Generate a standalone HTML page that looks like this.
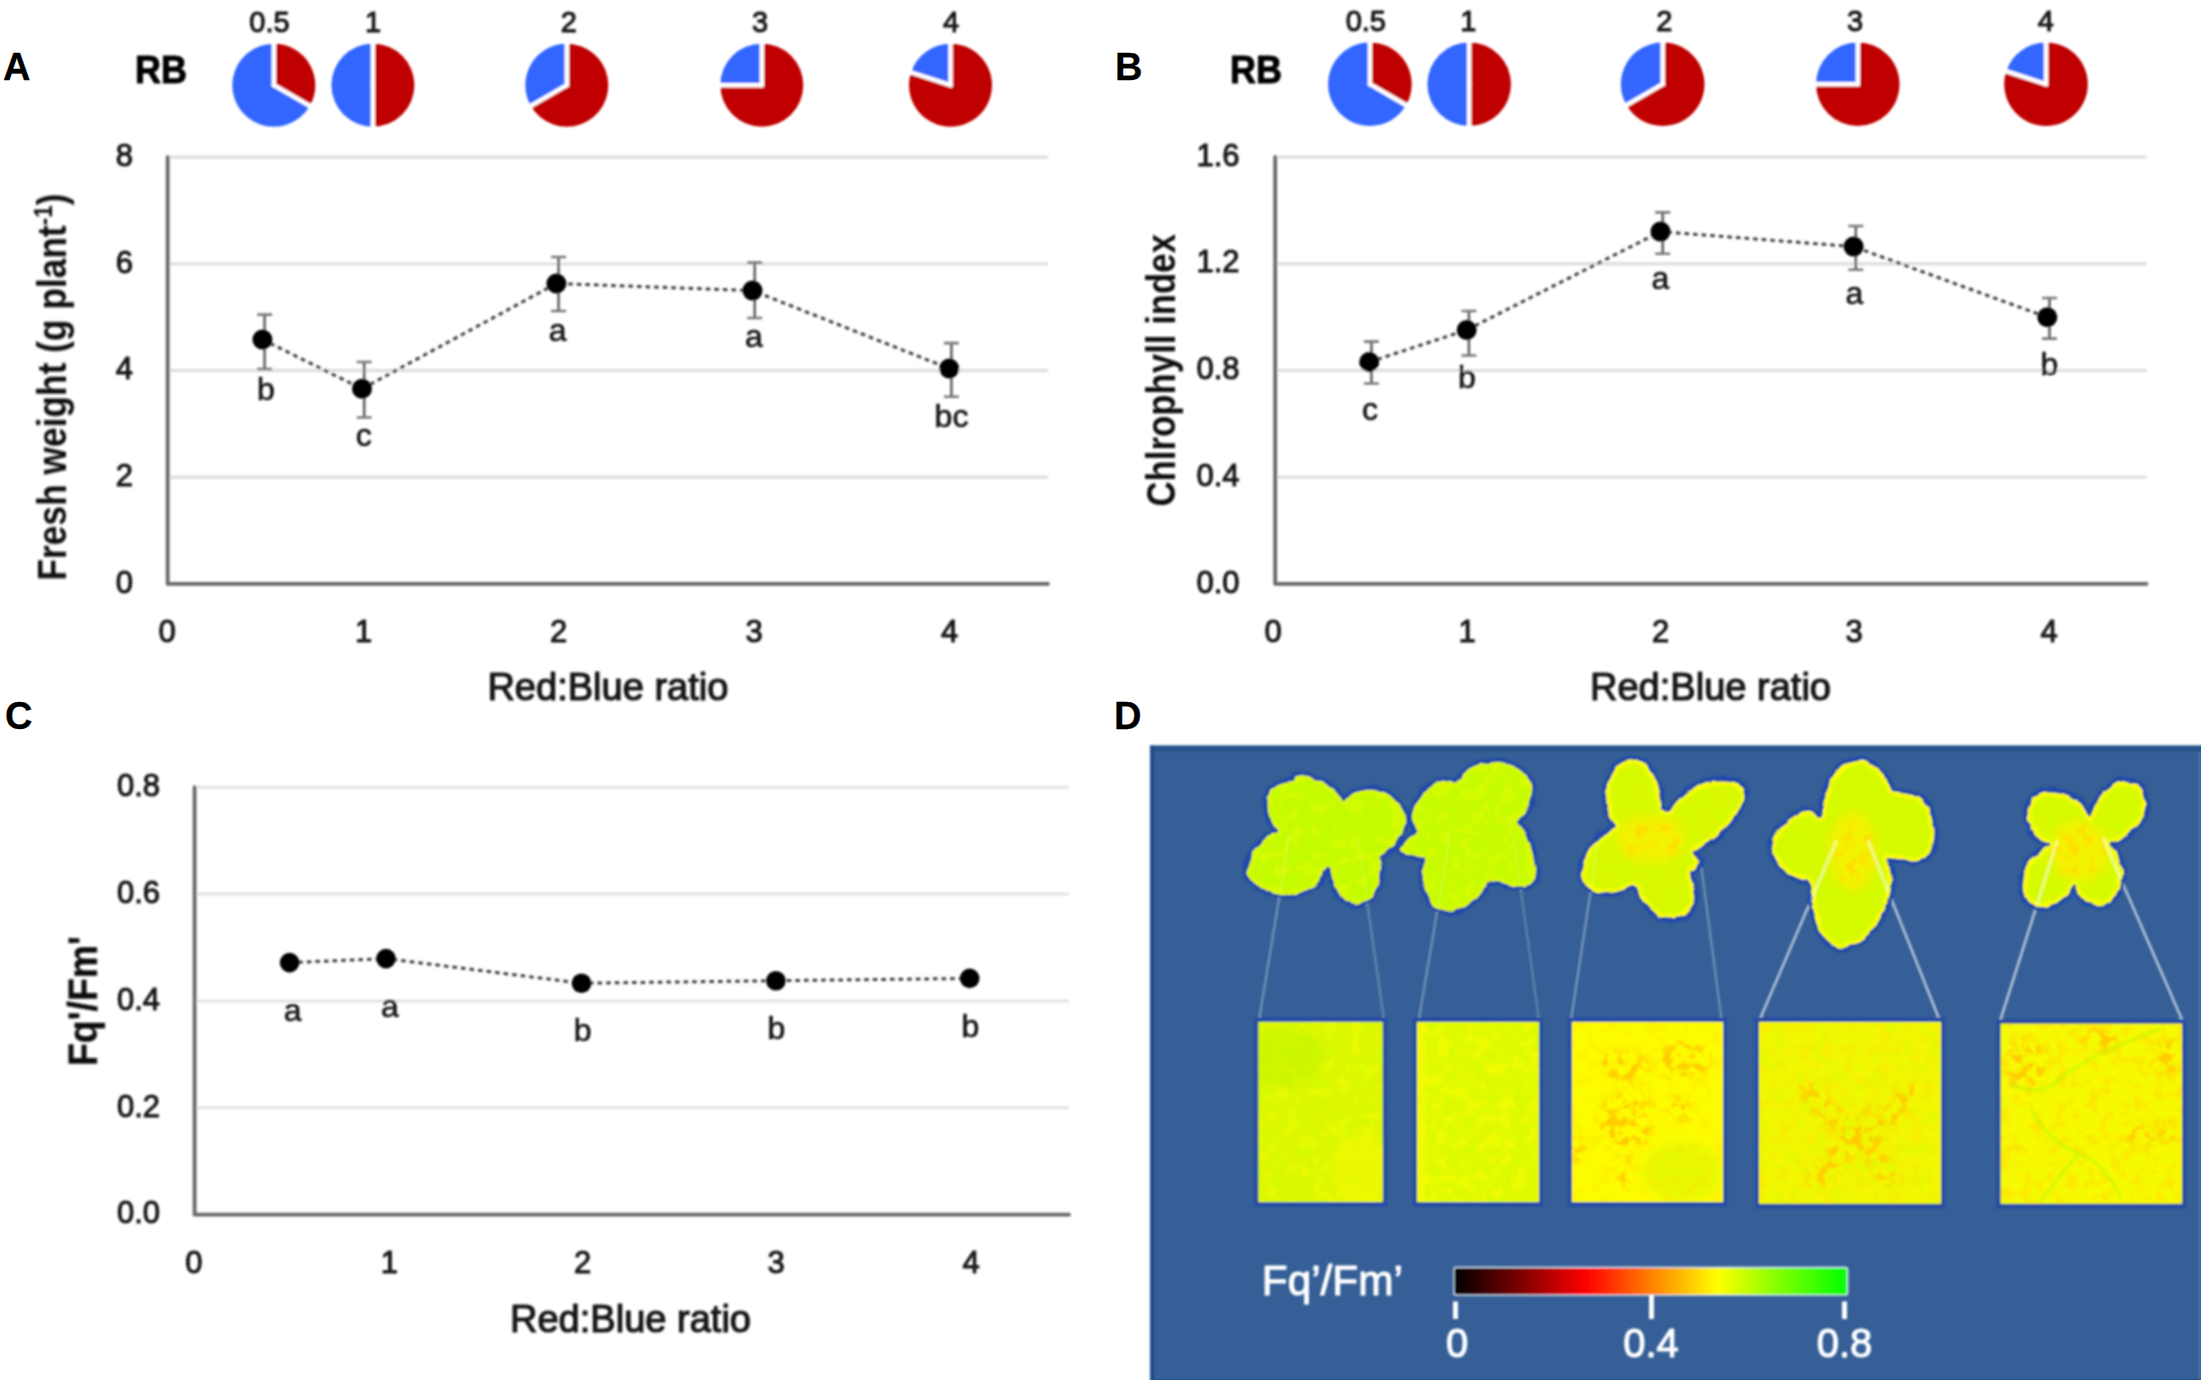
<!DOCTYPE html>
<html><head><meta charset="utf-8"><title>Figure</title>
<style>
html,body{margin:0;padding:0;background:#fff;}
svg{display:block;font-family:"Liberation Sans", sans-serif;}
text{stroke-linejoin:round;}
</style></head><body>
<svg width="2204" height="1383" viewBox="0 0 2204 1383">
<rect width="2204" height="1383" fill="#fff"/>
<text x="3.0" y="80.0" font-size="38" text-anchor="start" font-weight="bold" fill="#000" stroke="#000" stroke-width="0.3" >A</text>
<text x="1115.0" y="80.0" font-size="38" text-anchor="start" font-weight="bold" fill="#000" stroke="#000" stroke-width="0.3" >B</text>
<text x="5.0" y="729.0" font-size="38" text-anchor="start" font-weight="bold" fill="#000" stroke="#000" stroke-width="0.3" >C</text>
<text x="1114.0" y="729.0" font-size="38" text-anchor="start" font-weight="bold" fill="#000" stroke="#000" stroke-width="0.3" >D</text>
<defs><filter id="soft" x="0" y="0" width="100%" height="100%" filterUnits="userSpaceOnUse"><feGaussianBlur stdDeviation="0.8"/></filter></defs>
<g filter="url(#soft)">
<text x="135.0" y="82.8" font-size="38" text-anchor="start" font-weight="bold" fill="#000" stroke="#000" stroke-width="1.0" textLength="52.0" lengthAdjust="spacingAndGlyphs" >RB</text>
<text x="1230.0" y="82.5" font-size="38" text-anchor="start" font-weight="bold" fill="#000" stroke="#000" stroke-width="1.0" textLength="52.0" lengthAdjust="spacingAndGlyphs" >RB</text>
<path d="M273.80,85.20 L273.80,43.70 A41.5,41.5 0 0 1 309.74,105.95 Z" fill="#c00000"/>
<path d="M273.80,85.20 L309.74,105.95 A41.5,41.5 0 1 1 273.80,43.70 Z" fill="#3366ff"/>
<line x1="273.80" y1="85.20" x2="273.80" y2="41.70" stroke="#fff" stroke-width="4.4" stroke-linecap="round"/>
<line x1="273.80" y1="85.20" x2="311.47" y2="106.95" stroke="#fff" stroke-width="4.4" stroke-linecap="round"/>
<path d="M372.90,85.20 L372.90,43.70 A41.5,41.5 0 0 1 372.90,126.70 Z" fill="#c00000"/>
<path d="M372.90,85.20 L372.90,126.70 A41.5,41.5 0 0 1 372.90,43.70 Z" fill="#3366ff"/>
<line x1="372.90" y1="85.20" x2="372.90" y2="41.70" stroke="#fff" stroke-width="4.4" stroke-linecap="round"/>
<line x1="372.90" y1="85.20" x2="372.90" y2="128.70" stroke="#fff" stroke-width="4.4" stroke-linecap="round"/>
<path d="M566.80,85.20 L566.80,43.70 A41.5,41.5 0 1 1 530.86,105.95 Z" fill="#c00000"/>
<path d="M566.80,85.20 L530.86,105.95 A41.5,41.5 0 0 1 566.80,43.70 Z" fill="#3366ff"/>
<line x1="566.80" y1="85.20" x2="566.80" y2="41.70" stroke="#fff" stroke-width="4.4" stroke-linecap="round"/>
<line x1="566.80" y1="85.20" x2="529.13" y2="106.95" stroke="#fff" stroke-width="4.4" stroke-linecap="round"/>
<path d="M761.80,85.20 L761.80,43.70 A41.5,41.5 0 1 1 720.30,85.20 Z" fill="#c00000"/>
<path d="M761.80,85.20 L720.30,85.20 A41.5,41.5 0 0 1 761.80,43.70 Z" fill="#3366ff"/>
<line x1="761.80" y1="85.20" x2="761.80" y2="41.70" stroke="#fff" stroke-width="4.4" stroke-linecap="round"/>
<line x1="761.80" y1="85.20" x2="718.30" y2="85.20" stroke="#fff" stroke-width="4.4" stroke-linecap="round"/>
<path d="M950.50,85.20 L950.50,43.70 A41.5,41.5 0 1 1 911.03,72.38 Z" fill="#c00000"/>
<path d="M950.50,85.20 L911.03,72.38 A41.5,41.5 0 0 1 950.50,43.70 Z" fill="#3366ff"/>
<line x1="950.50" y1="85.20" x2="950.50" y2="41.70" stroke="#fff" stroke-width="4.4" stroke-linecap="round"/>
<line x1="950.50" y1="85.20" x2="909.13" y2="71.76" stroke="#fff" stroke-width="4.4" stroke-linecap="round"/>
<text x="269.5" y="31.5" font-size="29" text-anchor="middle" font-weight="normal" fill="#141414" stroke="#141414" stroke-width="1.0" >0.5</text>
<text x="373.0" y="31.5" font-size="29" text-anchor="middle" font-weight="normal" fill="#141414" stroke="#141414" stroke-width="1.0" >1</text>
<text x="568.7" y="31.5" font-size="29" text-anchor="middle" font-weight="normal" fill="#141414" stroke="#141414" stroke-width="1.0" >2</text>
<text x="760.0" y="31.5" font-size="29" text-anchor="middle" font-weight="normal" fill="#141414" stroke="#141414" stroke-width="1.0" >3</text>
<text x="951.0" y="31.5" font-size="29" text-anchor="middle" font-weight="normal" fill="#141414" stroke="#141414" stroke-width="1.0" >4</text>
<path d="M1369.90,84.20 L1369.90,42.40 A41.8,41.8 0 0 1 1406.10,105.10 Z" fill="#c00000"/>
<path d="M1369.90,84.20 L1406.10,105.10 A41.8,41.8 0 1 1 1369.90,42.40 Z" fill="#3366ff"/>
<line x1="1369.90" y1="84.20" x2="1369.90" y2="40.40" stroke="#fff" stroke-width="4.4" stroke-linecap="round"/>
<line x1="1369.90" y1="84.20" x2="1407.83" y2="106.10" stroke="#fff" stroke-width="4.4" stroke-linecap="round"/>
<path d="M1469.20,84.20 L1469.20,42.40 A41.8,41.8 0 0 1 1469.20,126.00 Z" fill="#c00000"/>
<path d="M1469.20,84.20 L1469.20,126.00 A41.8,41.8 0 0 1 1469.20,42.40 Z" fill="#3366ff"/>
<line x1="1469.20" y1="84.20" x2="1469.20" y2="40.40" stroke="#fff" stroke-width="4.4" stroke-linecap="round"/>
<line x1="1469.20" y1="84.20" x2="1469.20" y2="128.00" stroke="#fff" stroke-width="4.4" stroke-linecap="round"/>
<path d="M1662.70,84.20 L1662.70,42.40 A41.8,41.8 0 1 1 1626.50,105.10 Z" fill="#c00000"/>
<path d="M1662.70,84.20 L1626.50,105.10 A41.8,41.8 0 0 1 1662.70,42.40 Z" fill="#3366ff"/>
<line x1="1662.70" y1="84.20" x2="1662.70" y2="40.40" stroke="#fff" stroke-width="4.4" stroke-linecap="round"/>
<line x1="1662.70" y1="84.20" x2="1624.77" y2="106.10" stroke="#fff" stroke-width="4.4" stroke-linecap="round"/>
<path d="M1857.80,84.20 L1857.80,42.40 A41.8,41.8 0 1 1 1816.00,84.20 Z" fill="#c00000"/>
<path d="M1857.80,84.20 L1816.00,84.20 A41.8,41.8 0 0 1 1857.80,42.40 Z" fill="#3366ff"/>
<line x1="1857.80" y1="84.20" x2="1857.80" y2="40.40" stroke="#fff" stroke-width="4.4" stroke-linecap="round"/>
<line x1="1857.80" y1="84.20" x2="1814.00" y2="84.20" stroke="#fff" stroke-width="4.4" stroke-linecap="round"/>
<path d="M2046.00,84.20 L2046.00,42.40 A41.8,41.8 0 1 1 2006.25,71.28 Z" fill="#c00000"/>
<path d="M2046.00,84.20 L2006.25,71.28 A41.8,41.8 0 0 1 2046.00,42.40 Z" fill="#3366ff"/>
<line x1="2046.00" y1="84.20" x2="2046.00" y2="40.40" stroke="#fff" stroke-width="4.4" stroke-linecap="round"/>
<line x1="2046.00" y1="84.20" x2="2004.34" y2="70.67" stroke="#fff" stroke-width="4.4" stroke-linecap="round"/>
<text x="1365.8" y="30.5" font-size="29" text-anchor="middle" font-weight="normal" fill="#141414" stroke="#141414" stroke-width="1.0" >0.5</text>
<text x="1468.4" y="30.5" font-size="29" text-anchor="middle" font-weight="normal" fill="#141414" stroke="#141414" stroke-width="1.0" >1</text>
<text x="1664.4" y="30.5" font-size="29" text-anchor="middle" font-weight="normal" fill="#141414" stroke="#141414" stroke-width="1.0" >2</text>
<text x="1855.0" y="30.5" font-size="29" text-anchor="middle" font-weight="normal" fill="#141414" stroke="#141414" stroke-width="1.0" >3</text>
<text x="2045.8" y="30.5" font-size="29" text-anchor="middle" font-weight="normal" fill="#141414" stroke="#141414" stroke-width="1.0" >4</text>
<line x1="169.7" y1="157.2" x2="1048" y2="157.2" stroke="#e0e0e0" stroke-width="3.4"/>
<line x1="169.7" y1="263.9" x2="1048" y2="263.9" stroke="#e0e0e0" stroke-width="3.4"/>
<line x1="169.7" y1="370.5" x2="1048" y2="370.5" stroke="#e0e0e0" stroke-width="3.4"/>
<line x1="169.7" y1="477.2" x2="1048" y2="477.2" stroke="#e0e0e0" stroke-width="3.4"/>
<path d="M167.7,157.2 V583.8 H1048.0" fill="none" stroke="#686868" stroke-width="3.8" stroke-linejoin="round" stroke-linecap="round"/>
<text x="133.0" y="165.9" font-size="31" text-anchor="end" font-weight="normal" fill="#141414" stroke="#141414" stroke-width="1.0" >8</text>
<text x="133.0" y="272.6" font-size="31" text-anchor="end" font-weight="normal" fill="#141414" stroke="#141414" stroke-width="1.0" >6</text>
<text x="133.0" y="379.2" font-size="31" text-anchor="end" font-weight="normal" fill="#141414" stroke="#141414" stroke-width="1.0" >4</text>
<text x="133.0" y="485.9" font-size="31" text-anchor="end" font-weight="normal" fill="#141414" stroke="#141414" stroke-width="1.0" >2</text>
<text x="133.0" y="592.5" font-size="31" text-anchor="end" font-weight="normal" fill="#141414" stroke="#141414" stroke-width="1.0" >0</text>
<text x="167.0" y="642.0" font-size="31" text-anchor="middle" font-weight="normal" fill="#141414" stroke="#141414" stroke-width="1.0" >0</text>
<text x="363.5" y="642.0" font-size="31" text-anchor="middle" font-weight="normal" fill="#141414" stroke="#141414" stroke-width="1.0" >1</text>
<text x="558.5" y="642.0" font-size="31" text-anchor="middle" font-weight="normal" fill="#141414" stroke="#141414" stroke-width="1.0" >2</text>
<text x="754.0" y="642.0" font-size="31" text-anchor="middle" font-weight="normal" fill="#141414" stroke="#141414" stroke-width="1.0" >3</text>
<text x="949.5" y="642.0" font-size="31" text-anchor="middle" font-weight="normal" fill="#141414" stroke="#141414" stroke-width="1.0" >4</text>
<path d="M262.4,339.5 L362.0,388.8 L556.4,283.5 L752.5,290.6 L949.2,368.5" fill="none" stroke="#404040" stroke-width="3" stroke-dasharray="4.6 4"/>
<path d="M264.6,314.6 V369.0" fill="none" stroke="#5a5a5a" stroke-width="2.5"/><path d="M257.1,314.6 H272.1 M257.1,369.0 H272.1" fill="none" stroke="#787878" stroke-width="2.6"/>
<path d="M364.2,362.0 V417.5" fill="none" stroke="#5a5a5a" stroke-width="2.5"/><path d="M356.7,362.0 H371.7 M356.7,417.5 H371.7" fill="none" stroke="#787878" stroke-width="2.6"/>
<path d="M558.6,257.0 V311.0" fill="none" stroke="#5a5a5a" stroke-width="2.5"/><path d="M551.1,257.0 H566.1 M551.1,311.0 H566.1" fill="none" stroke="#787878" stroke-width="2.6"/>
<path d="M754.7,262.6 V318.0" fill="none" stroke="#5a5a5a" stroke-width="2.5"/><path d="M747.2,262.6 H762.2 M747.2,318.0 H762.2" fill="none" stroke="#787878" stroke-width="2.6"/>
<path d="M951.4,343.1 V396.8" fill="none" stroke="#5a5a5a" stroke-width="2.5"/><path d="M943.9,343.1 H958.9 M943.9,396.8 H958.9" fill="none" stroke="#787878" stroke-width="2.6"/>
<circle cx="262.4" cy="339.5" r="10" fill="#000"/>
<circle cx="362.0" cy="388.8" r="10" fill="#000"/>
<circle cx="556.4" cy="283.5" r="10" fill="#000"/>
<circle cx="752.5" cy="290.6" r="10" fill="#000"/>
<circle cx="949.2" cy="368.5" r="10" fill="#000"/>
<text x="265.8" y="399.6" font-size="32" text-anchor="middle" font-weight="normal" fill="#141414" stroke="#141414" stroke-width="0.6" >b</text>
<text x="363.8" y="446.4" font-size="32" text-anchor="middle" font-weight="normal" fill="#141414" stroke="#141414" stroke-width="0.6" >c</text>
<text x="557.7" y="340.7" font-size="32" text-anchor="middle" font-weight="normal" fill="#141414" stroke="#141414" stroke-width="0.6" >a</text>
<text x="753.8" y="347.4" font-size="32" text-anchor="middle" font-weight="normal" fill="#141414" stroke="#141414" stroke-width="0.6" >a</text>
<text x="951.5" y="426.5" font-size="32" text-anchor="middle" font-weight="normal" fill="#141414" stroke="#141414" stroke-width="0.6" >bc</text>
<text x="487.4" y="700.0" font-size="38" text-anchor="start" font-weight="normal" fill="#141414" stroke="#141414" stroke-width="1.2" textLength="241.0" lengthAdjust="spacingAndGlyphs" >Red:Blue ratio</text>
<text transform="translate(66,580.6) rotate(-90)" font-size="41" font-weight="bold" fill="#111" textLength="387" lengthAdjust="spacingAndGlyphs">Fresh weight (g plant<tspan font-size="26" dy="-14">-1</tspan><tspan dy="14">)</tspan></text>
<line x1="1277.2" y1="157.0" x2="2146.6" y2="157.0" stroke="#e0e0e0" stroke-width="3.4"/>
<line x1="1277.2" y1="263.7" x2="2146.6" y2="263.7" stroke="#e0e0e0" stroke-width="3.4"/>
<line x1="1277.2" y1="370.4" x2="2146.6" y2="370.4" stroke="#e0e0e0" stroke-width="3.4"/>
<line x1="1277.2" y1="477.1" x2="2146.6" y2="477.1" stroke="#e0e0e0" stroke-width="3.4"/>
<path d="M1275.2,157.0 V583.8 H2146.6" fill="none" stroke="#686868" stroke-width="3.8" stroke-linejoin="round" stroke-linecap="round"/>
<text x="1239.5" y="165.7" font-size="31" text-anchor="end" font-weight="normal" fill="#141414" stroke="#141414" stroke-width="1.0" >1.6</text>
<text x="1239.5" y="272.4" font-size="31" text-anchor="end" font-weight="normal" fill="#141414" stroke="#141414" stroke-width="1.0" >1.2</text>
<text x="1239.5" y="379.1" font-size="31" text-anchor="end" font-weight="normal" fill="#141414" stroke="#141414" stroke-width="1.0" >0.8</text>
<text x="1239.5" y="485.8" font-size="31" text-anchor="end" font-weight="normal" fill="#141414" stroke="#141414" stroke-width="1.0" >0.4</text>
<text x="1239.5" y="592.5" font-size="31" text-anchor="end" font-weight="normal" fill="#141414" stroke="#141414" stroke-width="1.0" >0.0</text>
<text x="1273.0" y="642.0" font-size="31" text-anchor="middle" font-weight="normal" fill="#141414" stroke="#141414" stroke-width="1.0" >0</text>
<text x="1467.0" y="642.0" font-size="31" text-anchor="middle" font-weight="normal" fill="#141414" stroke="#141414" stroke-width="1.0" >1</text>
<text x="1660.5" y="642.0" font-size="31" text-anchor="middle" font-weight="normal" fill="#141414" stroke="#141414" stroke-width="1.0" >2</text>
<text x="1854.0" y="642.0" font-size="31" text-anchor="middle" font-weight="normal" fill="#141414" stroke="#141414" stroke-width="1.0" >3</text>
<text x="2049.0" y="642.0" font-size="31" text-anchor="middle" font-weight="normal" fill="#141414" stroke="#141414" stroke-width="1.0" >4</text>
<path d="M1369.2,362.0 L1466.7,330.0 L1660.5,231.6 L1853.6,246.6 L2047.3,317.3" fill="none" stroke="#404040" stroke-width="3" stroke-dasharray="4.6 4"/>
<path d="M1371.4,341.6 V383.5" fill="none" stroke="#5a5a5a" stroke-width="2.5"/><path d="M1363.9,341.6 H1378.9 M1363.9,383.5 H1378.9" fill="none" stroke="#787878" stroke-width="2.6"/>
<path d="M1468.9,311.0 V355.5" fill="none" stroke="#5a5a5a" stroke-width="2.5"/><path d="M1461.4,311.0 H1476.4 M1461.4,355.5 H1476.4" fill="none" stroke="#787878" stroke-width="2.6"/>
<path d="M1662.7,212.4 V253.7" fill="none" stroke="#5a5a5a" stroke-width="2.5"/><path d="M1655.2,212.4 H1670.2 M1655.2,253.7 H1670.2" fill="none" stroke="#787878" stroke-width="2.6"/>
<path d="M1855.8,226.0 V269.7" fill="none" stroke="#5a5a5a" stroke-width="2.5"/><path d="M1848.3,226.0 H1863.3 M1848.3,269.7 H1863.3" fill="none" stroke="#787878" stroke-width="2.6"/>
<path d="M2049.5,298.0 V338.6" fill="none" stroke="#5a5a5a" stroke-width="2.5"/><path d="M2042.0,298.0 H2057.0 M2042.0,338.6 H2057.0" fill="none" stroke="#787878" stroke-width="2.6"/>
<circle cx="1369.2" cy="362.0" r="10" fill="#000"/>
<circle cx="1466.7" cy="330.0" r="10" fill="#000"/>
<circle cx="1660.5" cy="231.6" r="10" fill="#000"/>
<circle cx="1853.6" cy="246.6" r="10" fill="#000"/>
<circle cx="2047.3" cy="317.3" r="10" fill="#000"/>
<text x="1370.0" y="420.0" font-size="32" text-anchor="middle" font-weight="normal" fill="#141414" stroke="#141414" stroke-width="0.6" >c</text>
<text x="1467.0" y="388.1" font-size="32" text-anchor="middle" font-weight="normal" fill="#141414" stroke="#141414" stroke-width="0.6" >b</text>
<text x="1660.5" y="289.3" font-size="32" text-anchor="middle" font-weight="normal" fill="#141414" stroke="#141414" stroke-width="0.6" >a</text>
<text x="1854.5" y="303.7" font-size="32" text-anchor="middle" font-weight="normal" fill="#141414" stroke="#141414" stroke-width="0.6" >a</text>
<text x="2049.4" y="375.2" font-size="32" text-anchor="middle" font-weight="normal" fill="#141414" stroke="#141414" stroke-width="0.6" >b</text>
<text x="1590.0" y="700.0" font-size="38" text-anchor="start" font-weight="normal" fill="#141414" stroke="#141414" stroke-width="1.2" textLength="241.0" lengthAdjust="spacingAndGlyphs" >Red:Blue ratio</text>
<text transform="translate(1175,506.5) rotate(-90)" font-size="41" font-weight="bold" fill="#111" textLength="272.5" lengthAdjust="spacingAndGlyphs">Chlrophyll index</text>
<line x1="196.6" y1="787.2" x2="1069" y2="787.2" stroke="#e3e3e3" stroke-width="3"/>
<line x1="196.6" y1="894.1" x2="1069" y2="894.1" stroke="#e3e3e3" stroke-width="3"/>
<line x1="196.6" y1="1001.0" x2="1069" y2="1001.0" stroke="#e3e3e3" stroke-width="3"/>
<line x1="196.6" y1="1107.8" x2="1069" y2="1107.8" stroke="#e3e3e3" stroke-width="3"/>
<path d="M194.6,787.2 V1214.7 H1069.0" fill="none" stroke="#686868" stroke-width="3.8" stroke-linejoin="round" stroke-linecap="round"/>
<text x="160.0" y="795.9" font-size="31" text-anchor="end" font-weight="normal" fill="#141414" stroke="#141414" stroke-width="1.0" >0.8</text>
<text x="160.0" y="902.8" font-size="31" text-anchor="end" font-weight="normal" fill="#141414" stroke="#141414" stroke-width="1.0" >0.6</text>
<text x="160.0" y="1009.7" font-size="31" text-anchor="end" font-weight="normal" fill="#141414" stroke="#141414" stroke-width="1.0" >0.4</text>
<text x="160.0" y="1116.5" font-size="31" text-anchor="end" font-weight="normal" fill="#141414" stroke="#141414" stroke-width="1.0" >0.2</text>
<text x="160.0" y="1223.4" font-size="31" text-anchor="end" font-weight="normal" fill="#141414" stroke="#141414" stroke-width="1.0" >0.0</text>
<text x="193.8" y="1273.0" font-size="31" text-anchor="middle" font-weight="normal" fill="#141414" stroke="#141414" stroke-width="1.0" >0</text>
<text x="389.4" y="1273.0" font-size="31" text-anchor="middle" font-weight="normal" fill="#141414" stroke="#141414" stroke-width="1.0" >1</text>
<text x="582.6" y="1273.0" font-size="31" text-anchor="middle" font-weight="normal" fill="#141414" stroke="#141414" stroke-width="1.0" >2</text>
<text x="776.0" y="1273.0" font-size="31" text-anchor="middle" font-weight="normal" fill="#141414" stroke="#141414" stroke-width="1.0" >3</text>
<text x="971.0" y="1273.0" font-size="31" text-anchor="middle" font-weight="normal" fill="#141414" stroke="#141414" stroke-width="1.0" >4</text>
<path d="M289.6,962.6 L386.0,958.6 L581.5,983.2 L775.9,980.7 L969.7,978.4" fill="none" stroke="#404040" stroke-width="3" stroke-dasharray="4.6 4"/>
<circle cx="289.6" cy="962.6" r="9.8" fill="#000"/>
<circle cx="386.0" cy="958.6" r="9.8" fill="#000"/>
<circle cx="581.5" cy="983.2" r="9.8" fill="#000"/>
<circle cx="775.9" cy="980.7" r="9.8" fill="#000"/>
<circle cx="969.7" cy="978.4" r="9.8" fill="#000"/>
<text x="292.7" y="1020.7" font-size="32" text-anchor="middle" font-weight="normal" fill="#141414" stroke="#141414" stroke-width="0.6" >a</text>
<text x="389.8" y="1016.7" font-size="32" text-anchor="middle" font-weight="normal" fill="#141414" stroke="#141414" stroke-width="0.6" >a</text>
<text x="582.7" y="1041.2" font-size="32" text-anchor="middle" font-weight="normal" fill="#141414" stroke="#141414" stroke-width="0.6" >b</text>
<text x="776.5" y="1038.7" font-size="32" text-anchor="middle" font-weight="normal" fill="#141414" stroke="#141414" stroke-width="0.6" >b</text>
<text x="970.5" y="1036.7" font-size="32" text-anchor="middle" font-weight="normal" fill="#141414" stroke="#141414" stroke-width="0.6" >b</text>
<text x="510.0" y="1332.0" font-size="38" text-anchor="start" font-weight="normal" fill="#141414" stroke="#141414" stroke-width="1.2" textLength="241.0" lengthAdjust="spacingAndGlyphs" >Red:Blue ratio</text>
<text transform="translate(96.8,1066) rotate(-90)" font-size="41" stroke="#111" stroke-width="0.5" font-weight="bold" fill="#111" textLength="130" lengthAdjust="spacingAndGlyphs">Fq'/Fm'</text>
</g>
<defs><filter id="softD" x="1130" y="725" width="1100" height="680" filterUnits="userSpaceOnUse"><feGaussianBlur stdDeviation="0.9"/></filter><filter id="softE" x="1130" y="725" width="1100" height="680" filterUnits="userSpaceOnUse"><feGaussianBlur stdDeviation="1.3"/></filter>
<clipPath id="clipD"><rect x="1130" y="725" width="1071" height="655"/></clipPath></defs>
<g id="panelD" clip-path="url(#clipD)">
<g filter="url(#softE)">
<rect x="1150.2" y="745.6" width="1070.8" height="654.4" fill="#355f96"/>
<rect x="1150.2" y="745.6" width="1070.8" height="6" fill="#27528c"/>
<rect x="1150.2" y="745.6" width="3.6" height="654.4" fill="#19478a"/>
</g>
<rect x="2198" y="751.6" width="3" height="634.4" fill="#426b9f"/>
<rect x="1154.2" y="1378.8" width="1050.8" height="1.2" fill="#27528c"/>
<defs><filter id="b1" x="-10%" y="-10%" width="120%" height="120%"><feGaussianBlur stdDeviation="1.6"/></filter><filter id="b6" x="-50%" y="-50%" width="200%" height="200%"><feGaussianBlur stdDeviation="5"/></filter><filter id="b2" x="-20%" y="-20%" width="140%" height="140%"><feGaussianBlur stdDeviation="1.2"/></filter>
<filter id="rough" x="-5%" y="-5%" width="110%" height="110%"><feTurbulence type="fractalNoise" baseFrequency="0.09" numOctaves="2" seed="5" result="t"/><feDisplacementMap in="SourceGraphic" in2="t" scale="5" xChannelSelector="R" yChannelSelector="G"/></filter>
<filter id="nO" x="0" y="0" width="100%" height="100%"><feTurbulence type="fractalNoise" baseFrequency="0.11" numOctaves="3" seed="7" result="n"/><feColorMatrix in="n" type="matrix" values="0 0 0 0 1  0 0 0 0 0.6  0 0 0 0 0  8 0 0 0 -3.9" result="c"/><feComposite in="c" in2="SourceAlpha" operator="in"/><feGaussianBlur stdDeviation="0.7"/></filter>
<filter id="nO2" x="0" y="0" width="100%" height="100%"><feTurbulence type="fractalNoise" baseFrequency="0.09" numOctaves="3" seed="21" result="n"/><feColorMatrix in="n" type="matrix" values="0 0 0 0 1  0 0 0 0 0.72  0 0 0 0 0  6 0 0 0 -3.0" result="c"/><feComposite in="c" in2="SourceAlpha" operator="in"/><feGaussianBlur stdDeviation="0.7"/></filter>
<filter id="nG" x="0" y="0" width="100%" height="100%"><feTurbulence type="fractalNoise" baseFrequency="0.07" numOctaves="3" seed="4" result="n"/><feColorMatrix in="n" type="matrix" values="0 0 0 0 0.62  0 0 0 0 0.98  0 0 0 0 0  6 0 0 0 -3.0" result="c"/><feComposite in="c" in2="SourceAlpha" operator="in"/><feGaussianBlur stdDeviation="0.7"/></filter>
<filter id="nY" x="0" y="0" width="100%" height="100%"><feTurbulence type="fractalNoise" baseFrequency="0.08" numOctaves="3" seed="11" result="n"/><feColorMatrix in="n" type="matrix" values="0 0 0 0 1  0 0 0 0 1  0 0 0 0 0  6 0 0 0 -3.0" result="c"/><feComposite in="c" in2="SourceAlpha" operator="in"/><feGaussianBlur stdDeviation="0.7"/></filter>
<path id="pl0" d="M1296.2,775.1 C1299.6,774.8 1308.1,776.5 1313.6,778.2 C1319.0,779.9 1324.6,782.5 1328.7,785.3 C1332.9,788.1 1336.3,792.6 1338.5,795.1 C1340.7,797.6 1339.2,800.9 1341.8,800.5 C1344.3,800.1 1349.4,794.8 1353.7,792.9 C1358.0,791.0 1362.9,789.2 1367.8,789.0 C1372.7,788.8 1378.3,789.7 1383.0,791.8 C1387.7,793.9 1392.6,797.8 1396.0,801.6 C1399.4,805.4 1402.5,810.3 1403.6,814.6 C1404.7,818.9 1403.8,823.3 1402.5,827.6 C1401.2,832.0 1398.9,836.7 1396.0,840.6 C1393.1,844.6 1388.0,849.0 1385.1,851.5 C1382.3,854.0 1379.5,852.9 1378.6,855.8 C1377.7,858.7 1380.3,863.8 1379.7,868.8 C1379.2,873.9 1377.4,881.3 1375.4,886.2 C1373.4,891.1 1371.2,895.4 1367.8,898.1 C1364.4,900.8 1359.1,902.7 1354.8,902.5 C1350.4,902.3 1345.4,900.5 1341.8,897.0 C1338.1,893.6 1335.6,887.1 1333.1,881.9 C1330.5,876.6 1329.1,866.0 1326.6,865.6 C1324.0,865.2 1321.5,875.7 1317.9,879.7 C1314.3,883.7 1309.6,887.1 1304.9,889.5 C1300.2,891.8 1295.5,893.6 1289.7,893.8 C1283.9,894.0 1276.0,892.3 1270.2,890.5 C1264.4,888.7 1259.0,885.8 1255.0,882.9 C1251.0,880.1 1247.4,877.0 1246.3,873.2 C1245.2,869.4 1246.7,864.9 1248.5,860.2 C1250.3,855.5 1253.9,849.1 1257.1,845.0 C1260.4,840.8 1264.4,837.7 1268.0,835.2 C1271.6,832.7 1278.5,832.1 1278.8,829.8 C1279.2,827.4 1272.2,825.1 1270.2,821.1 C1268.2,817.1 1267.3,810.6 1266.9,805.9 C1266.6,801.2 1266.7,796.3 1268.0,792.9 C1269.3,789.5 1271.6,787.3 1274.5,785.3 C1277.4,783.3 1282.3,781.9 1285.4,781.0 C1288.4,780.1 1291.1,780.9 1292.9,779.9 C1294.8,778.9 1292.8,775.4 1296.2,775.1Z"/><clipPath id="cp0"><use href="#pl0"/></clipPath>
<path id="pl1" d="M1484.9,762.5 C1489.1,762.0 1495.1,760.7 1500.1,761.5 C1505.2,762.2 1511.0,764.3 1515.3,766.9 C1519.7,769.4 1523.6,772.7 1526.2,776.6 C1528.7,780.6 1530.3,785.9 1530.5,790.7 C1530.7,795.6 1529.1,801.6 1527.2,805.9 C1525.4,810.3 1521.6,814.1 1519.7,816.8 C1517.7,819.5 1514.6,819.7 1515.3,822.2 C1516.0,824.7 1521.5,827.4 1524.0,832.0 C1526.5,836.5 1528.9,843.5 1530.5,849.3 C1532.1,855.1 1533.2,862.0 1533.8,866.7 C1534.3,871.4 1535.0,874.6 1533.8,877.5 C1532.5,880.4 1529.6,882.8 1526.2,884.0 C1522.7,885.3 1517.8,885.7 1513.1,885.1 C1508.4,884.6 1502.3,881.7 1498.0,880.8 C1493.6,879.9 1490.0,878.1 1487.1,879.7 C1484.2,881.3 1483.5,886.9 1480.6,890.5 C1477.7,894.2 1474.1,898.3 1469.8,901.4 C1465.4,904.5 1459.6,907.9 1454.6,909.0 C1449.5,910.1 1443.7,909.5 1439.4,907.9 C1435.0,906.3 1431.2,903.2 1428.5,899.2 C1425.8,895.2 1424.2,889.1 1423.1,884.0 C1422.0,879.0 1421.8,873.2 1422.0,868.8 C1422.2,864.5 1425.6,860.3 1424.2,858.0 C1422.7,855.6 1417.5,856.2 1413.3,854.7 C1409.2,853.3 1400.3,851.7 1399.2,849.3 C1398.2,847.0 1404.1,843.9 1406.8,840.6 C1409.6,837.4 1414.8,833.8 1415.5,829.8 C1416.2,825.8 1411.2,821.5 1411.2,816.8 C1411.2,812.1 1413.3,806.1 1415.5,801.6 C1417.7,797.1 1420.6,792.9 1424.2,789.7 C1427.8,786.4 1432.9,783.6 1437.2,782.1 C1441.6,780.5 1447.0,780.5 1450.2,780.3 C1453.5,780.2 1454.2,782.5 1456.7,781.0 C1459.3,779.5 1462.3,773.9 1465.4,771.2 C1468.5,768.5 1471.9,766.2 1475.2,764.7 C1478.4,763.3 1480.8,763.1 1484.9,762.5Z"/><clipPath id="cp1"><use href="#pl1"/></clipPath>
<path id="pl2" d="M1625.1,760.4 C1628.3,759.6 1634.5,758.4 1638.1,759.3 C1641.7,760.2 1644.2,762.7 1646.8,765.8 C1649.3,768.9 1651.3,773.2 1653.3,777.7 C1655.3,782.2 1657.4,787.9 1658.7,792.9 C1660.0,798.0 1659.3,805.2 1660.9,808.1 C1662.5,811.0 1665.8,811.7 1668.5,810.3 C1671.2,808.8 1673.5,803.0 1677.1,799.4 C1680.8,795.8 1685.1,791.6 1690.2,788.6 C1695.2,785.5 1701.7,782.4 1707.5,781.0 C1713.3,779.5 1719.8,779.5 1724.9,779.9 C1729.9,780.3 1734.8,781.2 1737.9,783.2 C1741.0,785.1 1743.1,788.0 1743.3,791.8 C1743.5,795.6 1741.3,801.0 1739.0,805.9 C1736.6,810.8 1733.0,816.4 1729.2,821.1 C1725.4,825.8 1720.9,830.2 1716.2,834.1 C1711.5,838.1 1705.0,842.4 1701.0,845.0 C1697.0,847.5 1692.9,846.8 1692.3,849.3 C1691.8,851.8 1697.4,857.1 1697.8,860.2 C1698.1,863.2 1696.1,866.0 1694.5,867.8 C1692.9,869.6 1688.4,867.9 1688.0,871.0 C1687.6,874.1 1691.4,881.1 1692.3,886.2 C1693.2,891.3 1694.3,897.2 1693.4,901.4 C1692.5,905.5 1690.0,908.6 1686.9,911.1 C1683.8,913.7 1679.1,915.7 1675.0,916.6 C1670.8,917.5 1665.9,917.7 1662.0,916.6 C1658.0,915.5 1654.4,913.0 1651.1,910.1 C1647.9,907.2 1645.2,903.4 1642.4,899.2 C1639.7,895.1 1638.1,886.9 1634.8,885.1 C1631.6,883.3 1627.4,887.3 1622.9,888.4 C1618.4,889.5 1612.8,891.4 1607.7,891.6 C1602.7,891.8 1596.7,891.4 1592.5,889.5 C1588.4,887.5 1584.6,883.5 1582.8,879.7 C1581.0,875.9 1581.0,871.4 1581.7,866.7 C1582.4,862.0 1584.6,856.2 1587.1,851.5 C1589.6,846.8 1593.1,842.3 1596.9,838.5 C1600.7,834.7 1607.0,831.1 1609.9,828.7 C1612.8,826.4 1614.4,826.7 1614.2,824.4 C1614.1,822.0 1610.3,818.8 1608.8,814.6 C1607.4,810.4 1605.9,804.5 1605.6,799.4 C1605.2,794.4 1605.6,788.9 1606.6,784.2 C1607.7,779.5 1610.1,774.7 1612.1,771.2 C1614.1,767.8 1616.4,765.4 1618.6,763.6 C1620.7,761.8 1621.8,761.1 1625.1,760.4Z"/><clipPath id="cp2"><use href="#pl2"/></clipPath>
<path id="pl3" d="M1850.7,761.5 C1854.3,760.7 1859.7,759.5 1863.7,760.4 C1867.7,761.3 1871.0,763.8 1874.6,766.9 C1878.2,770.0 1882.5,774.8 1885.4,778.8 C1888.3,782.8 1888.7,788.4 1891.9,790.7 C1895.2,793.1 1900.6,791.8 1904.9,792.9 C1909.3,794.0 1914.2,795.1 1918.0,797.3 C1921.8,799.4 1925.9,802.7 1927.7,805.9 C1929.5,809.2 1927.9,812.8 1928.8,816.8 C1929.7,820.8 1932.8,825.1 1933.1,829.8 C1933.5,834.5 1932.4,840.6 1931.0,845.0 C1929.5,849.3 1927.4,853.3 1924.5,855.8 C1921.6,858.4 1918.0,859.8 1913.6,860.2 C1909.3,860.5 1903.1,858.4 1898.4,858.0 C1893.7,857.6 1886.9,855.8 1885.4,858.0 C1884.0,860.2 1889.0,866.3 1889.8,871.0 C1890.5,875.7 1890.5,880.8 1889.8,886.2 C1889.0,891.6 1887.6,897.8 1885.4,903.6 C1883.2,909.3 1880.4,915.5 1876.7,920.9 C1873.1,926.3 1868.4,932.1 1863.7,936.1 C1859.0,940.1 1853.2,943.1 1848.5,944.8 C1843.8,946.4 1839.9,947.3 1835.5,945.9 C1831.2,944.4 1825.8,940.3 1822.5,936.1 C1819.2,931.9 1817.8,926.3 1816.0,920.9 C1814.2,915.5 1812.7,910.1 1811.7,903.6 C1810.6,897.0 1811.7,886.2 1809.5,881.9 C1807.3,877.5 1802.6,879.3 1798.6,877.5 C1794.7,875.7 1789.6,874.3 1785.6,871.0 C1781.6,867.8 1777.3,862.0 1774.8,858.0 C1772.2,854.0 1770.4,851.1 1770.4,847.1 C1770.4,843.2 1772.2,838.5 1774.8,834.1 C1777.3,829.8 1781.6,824.7 1785.6,821.1 C1789.6,817.5 1794.7,814.2 1798.6,812.4 C1802.6,810.6 1805.9,809.5 1809.5,810.3 C1813.1,811.0 1818.2,817.9 1820.3,816.8 C1822.5,815.7 1821.6,808.5 1822.5,803.8 C1823.4,799.1 1823.9,793.6 1825.8,788.6 C1827.6,783.5 1830.6,777.4 1833.3,773.4 C1836.1,769.4 1839.1,766.7 1842.0,764.7 C1844.9,762.7 1847.1,762.2 1850.7,761.5Z"/><clipPath id="cp3"><use href="#pl3"/></clipPath>
<path id="pl4" d="M2034.5,795.1 C2037.6,793.3 2042.8,791.1 2047.6,790.8 C2052.3,790.4 2058.0,791.5 2062.7,792.9 C2067.4,794.4 2072.1,796.5 2075.8,799.4 C2079.4,802.3 2082.3,807.4 2084.4,810.3 C2086.6,813.2 2087.0,818.2 2088.8,816.8 C2090.6,815.3 2092.4,806.3 2095.3,801.6 C2098.2,796.9 2102.2,792.0 2106.1,788.6 C2110.1,785.2 2114.8,782.1 2119.2,781.0 C2123.5,779.9 2128.6,780.6 2132.2,782.1 C2135.8,783.5 2138.9,786.1 2140.9,789.7 C2142.8,793.3 2144.3,798.9 2144.1,803.8 C2143.9,808.7 2142.1,814.6 2139.8,819.0 C2137.4,823.3 2133.4,826.6 2130.0,829.8 C2126.6,833.1 2122.8,836.3 2119.2,838.5 C2115.5,840.7 2109.0,840.3 2108.3,842.8 C2107.6,845.4 2112.6,849.3 2114.8,853.7 C2117.0,858.0 2120.6,863.8 2121.3,868.9 C2122.0,873.9 2120.6,879.4 2119.2,884.1 C2117.7,888.8 2115.5,893.8 2112.6,897.1 C2109.8,900.3 2105.8,902.9 2101.8,903.6 C2097.8,904.3 2092.8,903.2 2088.8,901.4 C2084.8,899.6 2080.6,895.6 2077.9,892.7 C2075.2,889.8 2074.7,883.7 2072.5,884.1 C2070.3,884.4 2068.3,891.7 2064.9,894.9 C2061.5,898.2 2056.2,901.8 2051.9,903.6 C2047.6,905.4 2042.8,906.1 2038.9,905.8 C2034.9,905.4 2030.7,904.0 2028.0,901.4 C2025.3,898.9 2023.3,895.3 2022.6,890.6 C2021.9,885.9 2022.4,878.3 2023.7,873.2 C2024.9,868.1 2027.3,864.2 2030.2,860.2 C2033.1,856.2 2037.8,852.2 2041.0,849.3 C2044.3,846.4 2050.4,845.0 2049.7,842.8 C2049.0,840.7 2040.1,839.2 2036.7,836.3 C2033.3,833.4 2030.7,829.5 2029.1,825.5 C2027.5,821.5 2026.9,816.4 2026.9,812.5 C2026.9,808.5 2027.8,804.5 2029.1,801.6 C2030.4,798.7 2031.5,796.9 2034.5,795.1Z"/><clipPath id="cp4"><use href="#pl4"/></clipPath>
</defs>
<g filter="url(#softD)">
<line x1="1289.7" y1="834" x2="1259" y2="1020" stroke="#fff" stroke-opacity="0.33" stroke-width="2.2"/>
<line x1="1358" y1="838.5" x2="1384" y2="1020" stroke="#fff" stroke-opacity="0.25" stroke-width="2.2"/>
<line x1="1450.2" y1="834" x2="1418.8" y2="1020" stroke="#fff" stroke-opacity="0.33" stroke-width="2.2"/>
<line x1="1513" y1="834" x2="1539" y2="1020" stroke="#fff" stroke-opacity="0.22" stroke-width="2.2"/>
<line x1="1598" y1="842.8" x2="1571" y2="1020" stroke="#fff" stroke-opacity="0.36" stroke-width="2.2"/>
<line x1="1701" y1="864.5" x2="1721.6" y2="1020" stroke="#fff" stroke-opacity="0.30" stroke-width="2.2"/>
<line x1="1836.6" y1="840.6" x2="1759.6" y2="1020" stroke="#fff" stroke-opacity="0.62" stroke-width="2.6"/>
<line x1="1868" y1="840.6" x2="1939.6" y2="1020" stroke="#fff" stroke-opacity="0.62" stroke-width="2.6"/>
<line x1="2057.3" y1="840.6" x2="1999.8" y2="1022" stroke="#fff" stroke-opacity="0.62" stroke-width="2.6"/>
<line x1="2102.8" y1="837.4" x2="2183" y2="1022" stroke="#fff" stroke-opacity="0.62" stroke-width="2.6"/>
<g filter="url(#rough)" transform="translate(1,1)">
<use href="#pl0" fill="none" stroke="#2049ac" stroke-width="8.6" stroke-linejoin="round"/>
<use href="#pl0" fill="#c4fb00"/>
<g clip-path="url(#cp0)">
<use href="#pl0" fill="#000" filter="url(#nY)" opacity="0.28"/>
<use href="#pl0" fill="none" stroke="#e2fa00" stroke-width="5" filter="url(#b2)"/>
</g></g>
<g filter="url(#rough)" transform="translate(1,1)">
<use href="#pl1" fill="none" stroke="#2049ac" stroke-width="8.6" stroke-linejoin="round"/>
<use href="#pl1" fill="#c6fb00"/>
<g clip-path="url(#cp1)">
<use href="#pl1" fill="#000" filter="url(#nY)" opacity="0.28"/>
<use href="#pl1" fill="none" stroke="#e2fa00" stroke-width="5" filter="url(#b2)"/>
</g></g>
<g filter="url(#rough)" transform="translate(1,1)">
<use href="#pl2" fill="none" stroke="#2049ac" stroke-width="8.6" stroke-linejoin="round"/>
<use href="#pl2" fill="#d8f900"/>
<g clip-path="url(#cp2)">
<use href="#pl2" fill="#000" filter="url(#nG)" opacity="0.3"/>
<ellipse cx="1650" cy="838" rx="34" ry="24" fill="#fff000" opacity="0.7" filter="url(#b6)"/>
<g filter="url(#nO2)"><ellipse cx="1650" cy="838" rx="30.6" ry="21.6" fill="#000" filter="url(#b6)"/></g>
<use href="#pl2" fill="none" stroke="#ffff00" stroke-width="6.5" filter="url(#b2)"/>
</g></g>
<g filter="url(#rough)" transform="translate(1,1)">
<use href="#pl3" fill="none" stroke="#2049ac" stroke-width="8.6" stroke-linejoin="round"/>
<use href="#pl3" fill="#d6fa00"/>
<g clip-path="url(#cp3)">
<use href="#pl3" fill="#000" filter="url(#nG)" opacity="0.3"/>
<ellipse cx="1852" cy="850" rx="24" ry="40" fill="#fff000" opacity="0.7" filter="url(#b6)"/>
<g filter="url(#nO2)"><ellipse cx="1852" cy="850" rx="21.6" ry="36.0" fill="#000" filter="url(#b6)"/></g>
<use href="#pl3" fill="none" stroke="#ffff00" stroke-width="6.5" filter="url(#b2)"/>
</g></g>
<g filter="url(#rough)" transform="translate(1,1)">
<use href="#pl4" fill="none" stroke="#2049ac" stroke-width="8.6" stroke-linejoin="round"/>
<use href="#pl4" fill="#d8fa00"/>
<g clip-path="url(#cp4)">
<use href="#pl4" fill="#000" filter="url(#nG)" opacity="0.3"/>
<ellipse cx="2078" cy="850" rx="30" ry="30" fill="#fff000" opacity="0.7" filter="url(#b6)"/>
<g filter="url(#nO2)"><ellipse cx="2078" cy="850" rx="27.0" ry="27.0" fill="#000" filter="url(#b6)"/></g>
<use href="#pl4" fill="none" stroke="#ffff00" stroke-width="6.5" filter="url(#b2)"/>
</g></g>
<line x1="1289.7" y1="834" x2="1259" y2="1020" stroke="#fff" stroke-opacity="0.15" stroke-width="2.2" clip-path="url(#cp0)"/>
<line x1="1358" y1="838.5" x2="1384" y2="1020" stroke="#fff" stroke-opacity="0.11" stroke-width="2.2" clip-path="url(#cp0)"/>
<line x1="1450.2" y1="834" x2="1418.8" y2="1020" stroke="#fff" stroke-opacity="0.15" stroke-width="2.2" clip-path="url(#cp1)"/>
<line x1="1513" y1="834" x2="1539" y2="1020" stroke="#fff" stroke-opacity="0.10" stroke-width="2.2" clip-path="url(#cp1)"/>
<line x1="1598" y1="842.8" x2="1571" y2="1020" stroke="#fff" stroke-opacity="0.16" stroke-width="2.2" clip-path="url(#cp2)"/>
<line x1="1701" y1="864.5" x2="1721.6" y2="1020" stroke="#fff" stroke-opacity="0.14" stroke-width="2.2" clip-path="url(#cp2)"/>
<line x1="1836.6" y1="840.6" x2="1759.6" y2="1020" stroke="#fff" stroke-opacity="0.53" stroke-width="2.6" clip-path="url(#cp3)"/>
<line x1="1868" y1="840.6" x2="1939.6" y2="1020" stroke="#fff" stroke-opacity="0.53" stroke-width="2.6" clip-path="url(#cp3)"/>
<line x1="2057.3" y1="840.6" x2="1999.8" y2="1022" stroke="#fff" stroke-opacity="0.53" stroke-width="2.6" clip-path="url(#cp4)"/>
<line x1="2102.8" y1="837.4" x2="2183" y2="1022" stroke="#fff" stroke-opacity="0.53" stroke-width="2.6" clip-path="url(#cp4)"/>
<rect x="1254.2" y="1017.4" width="132.7" height="189.2" fill="#264da6"/>
<rect x="1258.4" y="1022" width="124.3" height="180.0" fill="#dcf800"/>
<clipPath id="cs0"><rect x="1258.4" y="1022" width="124.3" height="180.0"/></clipPath>
<g clip-path="url(#cs0)">
<rect x="1258.4" y="1022" width="124.3" height="180.0" fill="#000" filter="url(#nG)" opacity="0.5"/>
<rect x="1258.4" y="1022" width="124.3" height="180.0" fill="#000" filter="url(#nY)" opacity="0.35"/>
<ellipse cx="1283.4" cy="1057" rx="40" ry="30" fill="#b4f200" opacity="0.4" filter="url(#b6)"/>
<ellipse cx="1363.4" cy="1172" rx="30" ry="40" fill="#f4f800" opacity="0.6" filter="url(#b6)"/>
</g>
<rect x="1412.8" y="1017.4" width="130.4" height="189.2" fill="#264da6"/>
<rect x="1417" y="1022" width="122.0" height="180.0" fill="#e0fa00"/>
<clipPath id="cs1"><rect x="1417" y="1022" width="122.0" height="180.0"/></clipPath>
<g clip-path="url(#cs1)">
<rect x="1417" y="1022" width="122.0" height="180.0" fill="#000" filter="url(#nG)" opacity="0.3"/>
<rect x="1417" y="1022" width="122.0" height="180.0" fill="#000" filter="url(#nY)" opacity="0.55"/>
<rect x="1417" y="1022" width="8" height="180.0" fill="#fcfc00" opacity="0.6" filter="url(#b2)"/>
</g>
<rect x="1567.8" y="1017.4" width="159.4" height="189.2" fill="#264da6"/>
<rect x="1572" y="1022" width="151.0" height="180.0" fill="#fcfc00"/>
<clipPath id="cs2"><rect x="1572" y="1022" width="151.0" height="180.0"/></clipPath>
<g clip-path="url(#cs2)">
<g filter="url(#nO)"><g filter="url(#b6)"><ellipse cx="1622" cy="1067" rx="28" ry="16"/><ellipse cx="1684" cy="1060" rx="28" ry="20"/><ellipse cx="1627" cy="1122" rx="30" ry="30"/><ellipse cx="1680" cy="1110" rx="12" ry="14"/><ellipse cx="1624" cy="1172" rx="10" ry="16"/><ellipse cx="1578" cy="1147" rx="8" ry="18"/></g></g>
<ellipse cx="1682" cy="1172" rx="40" ry="30" fill="#d8f800" opacity="0.55" filter="url(#b6)"/>
<rect x="1572" y="1022" width="151.0" height="180.0" fill="#000" filter="url(#nO2)" opacity="0.25"/>
</g>
<rect x="1754.8" y="1017.4" width="190.4" height="191.0" fill="#264da6"/>
<rect x="1759" y="1022" width="182.0" height="181.8" fill="#f2f800"/>
<clipPath id="cs3"><rect x="1759" y="1022" width="182.0" height="181.8"/></clipPath>
<g clip-path="url(#cs3)">
<rect x="1759" y="1022" width="182.0" height="181.8" fill="#000" filter="url(#nG)" opacity="0.3"/>
<g filter="url(#nO)"><g filter="url(#b6)"><path d="M1799,1082 L1849,1132 L1814,1187 M1914,1087 L1867,1142 L1894,1187 M1829,1172 L1871,1117" stroke="#000" stroke-width="20" fill="none" stroke-linecap="round"/></g></g>
<rect x="1759" y="1022" width="182.0" height="181.8" fill="#000" filter="url(#nO2)" opacity="0.3"/>
</g>
<rect x="1996.4" y="1019.0" width="189.8" height="189.4" fill="#264da6"/>
<rect x="2000.6" y="1023.6" width="181.4" height="180.2" fill="#f6fa00"/>
<clipPath id="cs4"><rect x="2000.6" y="1023.6" width="181.4" height="180.2"/></clipPath>
<g clip-path="url(#cs4)">
<rect x="2000.6" y="1023.6" width="181.4" height="180.2" fill="#000" filter="url(#nO2)" opacity="0.55"/>
<g filter="url(#nO)"><g filter="url(#b6)"><ellipse cx="2150.6" cy="1133.6" rx="30" ry="12"/><ellipse cx="2100.6" cy="1038.6" rx="20" ry="12"/><ellipse cx="2025.6" cy="1063.6" rx="22" ry="25"/><ellipse cx="2165.6" cy="1058.6" rx="16" ry="20"/></g></g>
<path d="M2010.6,1083.6 Q2040.6,1098.6 2060.6,1078.6 T2160.6,1028.6 M2030.6,1108.6 Q2050.6,1143.6 2078.6,1153.6 T2120.6,1198.6 M2078.6,1153.6 Q2060.6,1173.6 2040.6,1201.6" fill="none" stroke="#a8f800" stroke-width="2.6" opacity="0.55" filter="url(#b2)"/>
</g>
<defs><linearGradient id="cb" x1="0" x2="1" y1="0" y2="0"><stop offset="0" stop-color="#000"/><stop offset="0.17" stop-color="#800000"/><stop offset="0.335" stop-color="#ff0000"/><stop offset="0.5" stop-color="#ff8000"/><stop offset="0.67" stop-color="#ffff00"/><stop offset="0.83" stop-color="#80ff00"/><stop offset="1" stop-color="#00ff00"/></linearGradient></defs>
<rect x="1453" y="1266.5" width="395.5" height="29.5" rx="3" fill="#c9d6ea"/>
<rect x="1454.5" y="1268" width="392.5" height="26.5" rx="2" fill="url(#cb)"/>
<line x1="1455.5" y1="1301.5" x2="1455.5" y2="1319" stroke="#fff" stroke-width="5"/>
<line x1="1651.5" y1="1295" x2="1651.5" y2="1319" stroke="#fff" stroke-width="5"/>
<line x1="1844.5" y1="1301.5" x2="1844.5" y2="1319" stroke="#fff" stroke-width="5"/>
<text x="1457.0" y="1357.0" font-size="40" text-anchor="middle" font-weight="normal" fill="#fff" stroke="#fff" stroke-width="1.1" >0</text>
<text x="1651.0" y="1357.0" font-size="40" text-anchor="middle" font-weight="normal" fill="#fff" stroke="#fff" stroke-width="1.1" >0.4</text>
<text x="1844.5" y="1357.0" font-size="40" text-anchor="middle" font-weight="normal" fill="#fff" stroke="#fff" stroke-width="1.1" >0.8</text>
<text x="1261.8" y="1295.0" font-size="42" text-anchor="start" font-weight="normal" fill="#fff" stroke="#fff" stroke-width="1.1" textLength="141.0" lengthAdjust="spacingAndGlyphs" >Fq’/Fm’</text>
</g>
</g>
</svg></body></html>
